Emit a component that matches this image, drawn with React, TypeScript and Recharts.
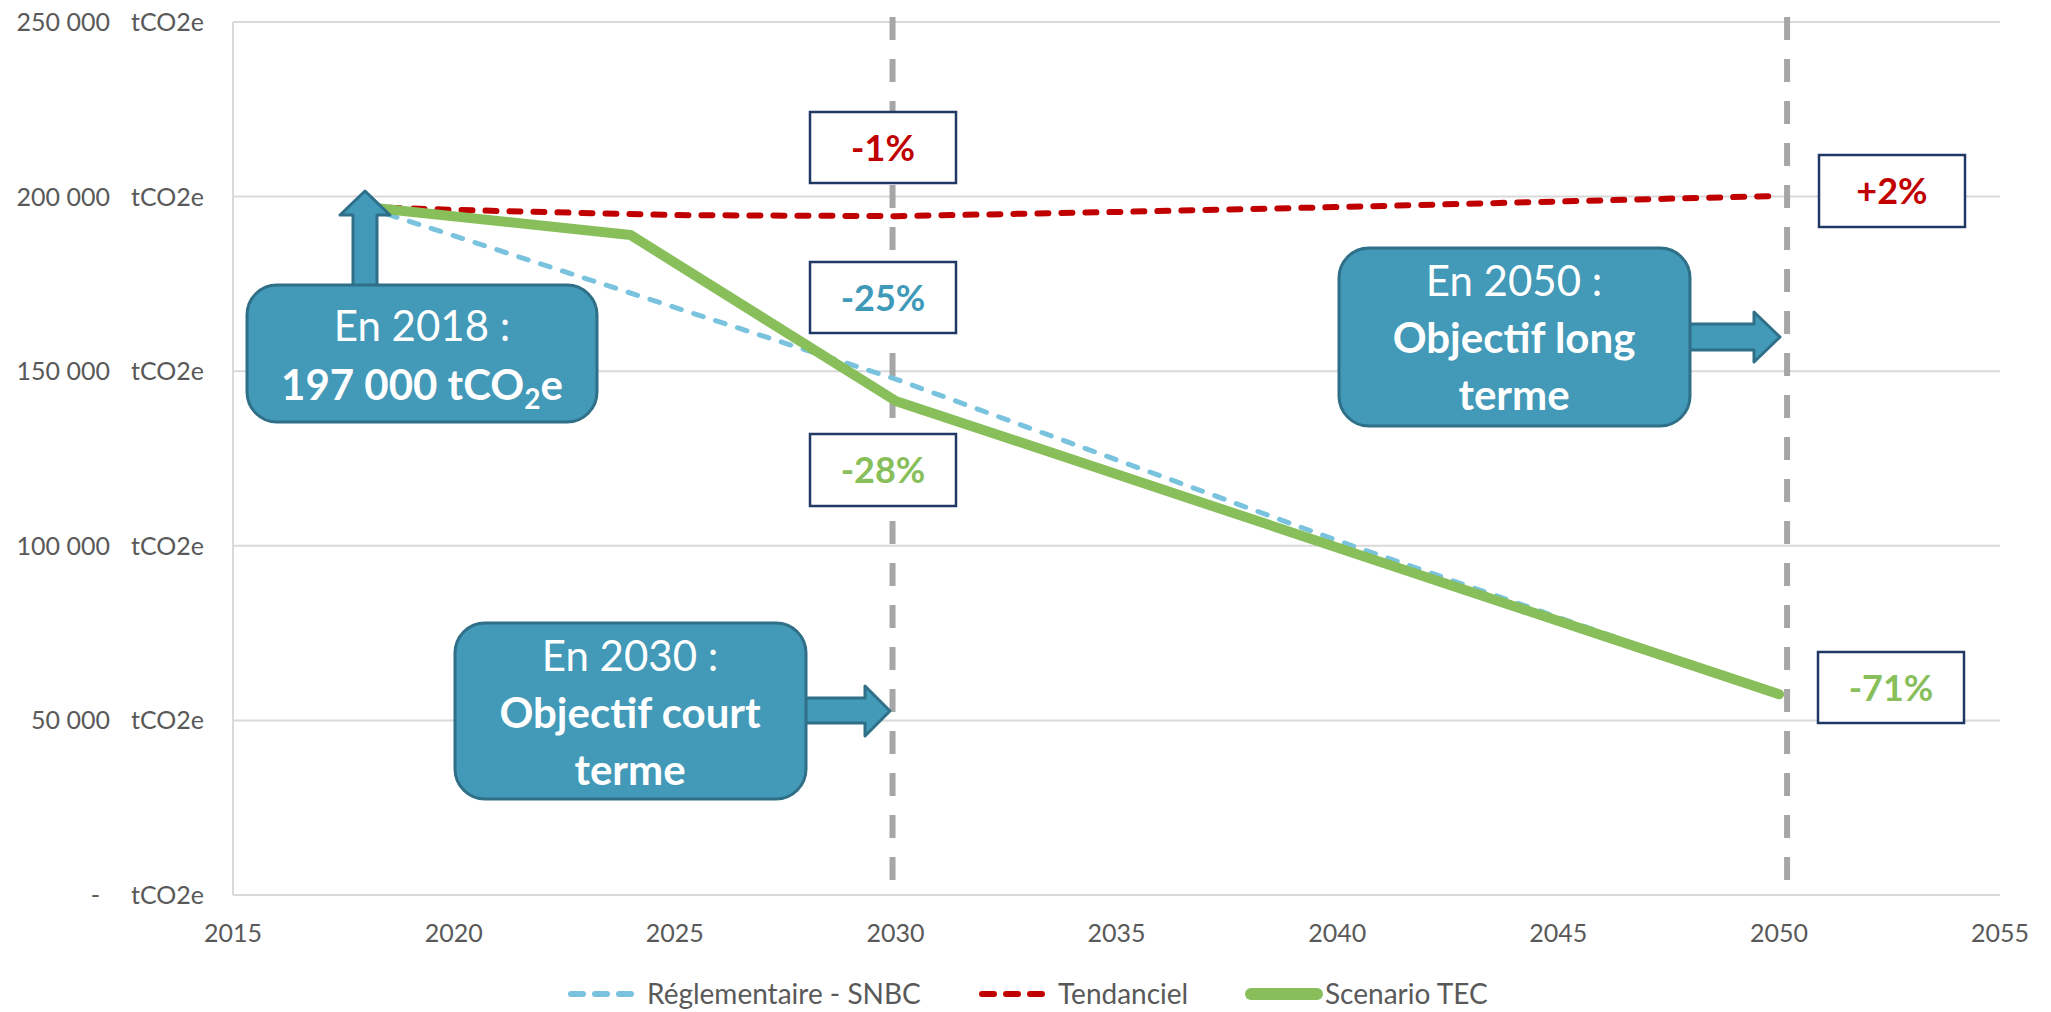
import React from 'react';
import { LineChart, Line, XAxis, YAxis, CartesianGrid, ReferenceLine } from 'recharts';

// ---- data ----
const xTicks = [2015, 2020, 2025, 2030, 2035, 2040, 2045, 2050, 2055];
const yTicks = [0, 50000, 100000, 150000, 200000, 250000];
const yUnit = 'tCO2e';

const snbcYears = [2018, 2030, 2040, 2050];
const snbcValues = [197000, 147750, 101500, 57500];

const tendYears = [2018, 2020, 2025, 2030, 2035, 2040, 2045, 2050];
const tendValues = [197000, 196200, 194700, 194400, 195600, 197000, 198600, 200200];

const tecYears = [2018, 2024, 2030, 2050];
const tecValues = [197000, 189000, 141500, 57500];

const seriesNames = ['Réglementaire - SNBC', 'Tendanciel', 'Scenario TEC'];
const objectiveYears = [2029.93, 2050.18];

const snbcData = snbcYears.map((year, i) => ({ year, value: snbcValues[i] }));
const tendData = tendYears.map((year, i) => ({ year, value: tendValues[i] }));
const tecData = tecYears.map((year, i) => ({ year, value: tecValues[i] }));

// ---- style ----
const FONT = 'Lato, Carlito, "Open Sans", sans-serif';
const GRAY_TEXT = '#595959';
const GRID = '#D9D9D9';
const BLUE = '#7AC3DE';
const RED = '#C00000';
const GREEN = '#88BF5B';
const TEAL = '#4299B8';
const TEAL_DARK = '#2F6F87';
const NAVY = '#1F3864';

const fmt = (v: number) => {
  if (v === 0) return '-';
  return String(v).replace(/\B(?=(\d{3})+(?!\d))/g, ' ');
};

const YTick = (props: any) => {
  const { x, y, payload } = props;
  const v = payload.value as number;
  return (
    <g>
      <text
        x={v === 0 ? x - 133 : x - 123}
        y={y + 9}
        textAnchor="end"
        fontFamily={FONT}
        fontSize={25}
        fill={GRAY_TEXT}
      >
        {fmt(v)}
      </text>
      <text x={x - 29} y={y + 9} textAnchor="end" fontFamily={FONT} fontSize={25} fill={GRAY_TEXT}>
        {yUnit}
      </text>
    </g>
  );
};

const XTick = (props: any) => {
  const { x, y, payload } = props;
  return (
    <text x={x} y={y + 47} textAnchor="middle" fontFamily={FONT} fontSize={25} fill={GRAY_TEXT}>
      {payload.value}
    </text>
  );
};

const PctBox = ({ x, y, w, h, text, color }: any) => (
  <g>
    <rect x={x} y={y} width={w} height={h} fill="#FFFFFF" stroke={NAVY} strokeWidth={2.5} />
    <text
      x={x + w / 2}
      y={y + h / 2 + 13}
      textAnchor="middle"
      fontFamily={FONT}
      fontWeight={700}
      fontSize={36}
      fill={color}
    >
      {text}
    </text>
  </g>
);

const Callout = ({ x, y, w, h, arrow, children }: any) => (
  <g>
    <polygon points={arrow} fill={TEAL} stroke={TEAL_DARK} strokeWidth={3} strokeLinejoin="round" />
    <rect x={x} y={y} width={w} height={h} rx={30} ry={30} fill={TEAL} stroke={TEAL_DARK} strokeWidth={3} />
    {children}
  </g>
);

const Overlay = () => {
  const txt = { fontFamily: FONT, fontSize: 42, fill: '#FFFFFF', textAnchor: 'middle' as const };
  return (
    <svg
      width={2051}
      height={1012}
      style={{ position: 'absolute', left: 0, top: 0, pointerEvents: 'none' }}
    >
      {/* 2018 callout */}
      <Callout
        x={247}
        y={285}
        w={350}
        h={137}
        arrow="353,288 353,215 340,215 365,191 390,215 377,215 377,288"
      >
        <text x={422} y={341} {...txt}>En 2018 :</text>
        <text x={422} y={400} {...txt} fontWeight={700}>
          197 000 tCO<tspan fontSize={28} dy={9}>2</tspan>
          <tspan dy={-9}>e</tspan>
        </text>
      </Callout>

      {/* 2030 callout */}
      <Callout
        x={455}
        y={623}
        w={351}
        h={176}
        arrow="803,698 865,698 865,686 890,711 865,736 865,723 803,723"
      >
        <text x={630} y={671} {...txt}>En 2030 :</text>
        <text x={630} y={728} {...txt} fontWeight={700}>Objectif court</text>
        <text x={630} y={785} {...txt} fontWeight={700}>terme</text>
      </Callout>

      {/* 2050 callout */}
      <Callout
        x={1339}
        y={248}
        w={351}
        h={178}
        arrow="1687,324 1754,324 1754,312 1780,337 1754,362 1754,350 1687,350"
      >
        <text x={1514} y={296} {...txt}>En 2050 :</text>
        <text x={1514} y={353} {...txt} fontWeight={700}>Objectif long</text>
        <text x={1514} y={410} {...txt} fontWeight={700}>terme</text>
      </Callout>

      <PctBox x={810} y={112} w={146} h={71} text="-1%" color={RED} />
      <PctBox x={810} y={262} w={146} h={71} text="-25%" color="#3E9AB8" />
      <PctBox x={810} y={434} w={146} h={72} text="-28%" color={GREEN} />
      <PctBox x={1819} y={155} w={146} h={72} text="+2%" color={RED} />
      <PctBox x={1818} y={652} w={146} h={71} text="-71%" color={GREEN} />

      {/* legend */}
      <g>
        <line x1={571} y1={994} x2={631} y2={994} stroke={BLUE} strokeWidth={6} strokeLinecap="round" strokeDasharray="12 12" />
        <text x={647} y={1004} fontFamily={FONT} fontSize={28} fill={GRAY_TEXT}>{seriesNames[0]}</text>
        <line x1={982} y1={994} x2={1042} y2={994} stroke={RED} strokeWidth={6} strokeLinecap="round" strokeDasharray="12 12" />
        <text x={1058} y={1004} fontFamily={FONT} fontSize={28} fill={GRAY_TEXT}>{seriesNames[1]}</text>
        <line x1={1251} y1={994} x2={1317} y2={994} stroke={GREEN} strokeWidth={12} strokeLinecap="round" />
        <text x={1325} y={1004} fontFamily={FONT} fontSize={28} fill={GRAY_TEXT}>{seriesNames[2]}</text>
      </g>
    </svg>
  );
};

export default function App() {
  return (
    <div
      style={{
        position: 'absolute',
        left: 0,
        top: 0,
        width: 2051,
        height: 1012,
        overflow: 'hidden',
        background: '#FFFFFF',
      }}
    >
      <LineChart width={2051} height={1012} margin={{ top: 22, right: 51, left: 0, bottom: 0 }}>
        <CartesianGrid horizontal vertical={false} stroke={GRID} strokeWidth={2} />
        <XAxis
          type="number"
          dataKey="year"
          domain={[2015, 2055]}
          ticks={xTicks}
          allowDataOverflow
          height={117}
          tickSize={0}
          tickMargin={0}
          tickLine={false}
          axisLine={{ stroke: GRID, strokeWidth: 2 }}
          tick={<XTick />}
        />
        <YAxis
          type="number"
          domain={[0, 250000]}
          ticks={yTicks}
          width={233}
          tickSize={0}
          tickMargin={0}
          tickLine={false}
          axisLine={{ stroke: GRID, strokeWidth: 2 }}
          tick={<YTick />}
        />
        {objectiveYears.map((yr) => (
          <ReferenceLine
            key={yr}
            segment={[
              { x: yr, y: 251400 },
              { x: yr, y: 2500 },
            ]}
            ifOverflow="visible"
            stroke="#A6A6A6"
            strokeWidth={6}
            strokeDasharray="23 19"
          />
        ))}
        <Line
          data={snbcData}
          dataKey="value"
          name={seriesNames[0]}
          type="linear"
          stroke={BLUE}
          strokeWidth={5}
          strokeDasharray="10 13"
          strokeLinecap="round"
          dot={false}
          activeDot={false}
          isAnimationActive={false}
        />
        <Line
          data={tendData}
          dataKey="value"
          name={seriesNames[1]}
          type="linear"
          stroke={RED}
          strokeWidth={6}
          strokeDasharray="11 13"
          strokeLinecap="round"
          dot={false}
          activeDot={false}
          isAnimationActive={false}
        />
        <Line
          data={tecData}
          dataKey="value"
          name={seriesNames[2]}
          type="linear"
          stroke={GREEN}
          strokeWidth={10}
          strokeLinecap="round"
          strokeLinejoin="round"
          dot={false}
          activeDot={false}
          isAnimationActive={false}
        />
      </LineChart>
      <Overlay />
    </div>
  );
}
